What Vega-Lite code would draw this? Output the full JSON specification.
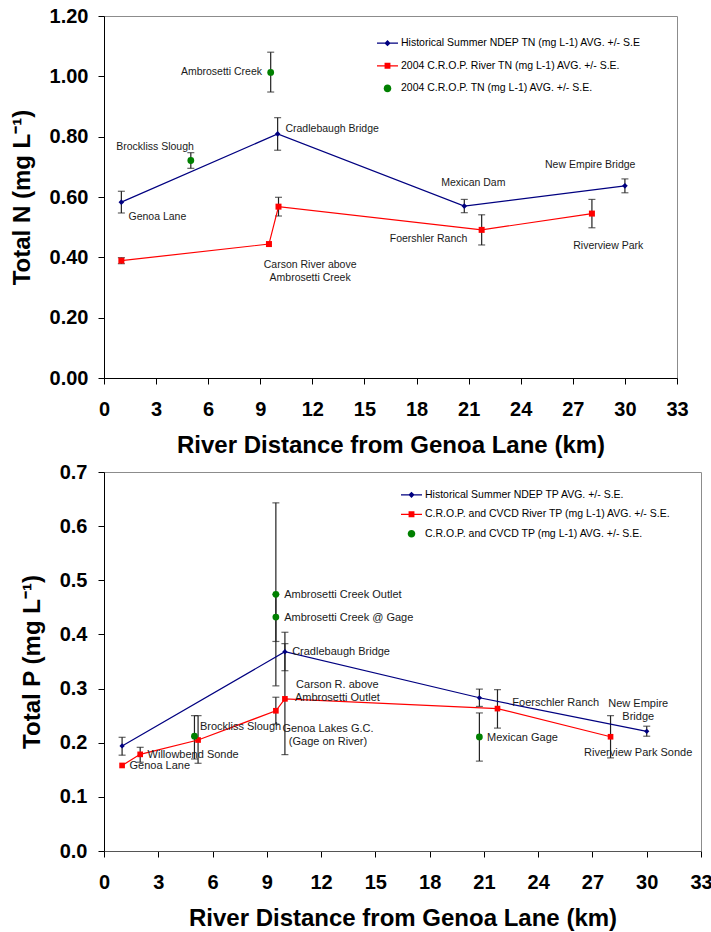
{
  "$schema": "https://vega.github.io/schema/vega-lite/v6.json",
  "background": "white",
  "padding": {"left": 9, "top": 5, "right": 5, "bottom": 2},
  "spacing": 3,
  "config": {
    "font": "Liberation Sans",
    "view": {"stroke": "#8c8c8c", "strokeWidth": 1},
    "axis": {
      "grid": false, "domainColor": "#000", "domainWidth": 1, "tickColor": "#000", "tickSize": 6, "tickWidth": 1,
      "labelFont": "Liberation Sans", "labelFontWeight": "bold", "labelFontSize": 20, "labelColor": "#000",
      "titleFont": "Liberation Sans", "titleFontWeight": "bold", "titleFontSize": 24, "titleColor": "#000",
      "labelFlush": false, "labelOverlap": false
    },
    "legend": {
      "labelFont": "Liberation Sans", "orient": "none", "padding": 0,
      "symbolSize": 441, "symbolStrokeWidth": 0, "symbolOpacity": 1, "labelFontSize": 10.5,
      "labelOffset": 3, "labelLimit": 400, "labelColor": "#000"
    }
  },
  "resolve": {
    "scale": {"x": "independent", "y": "independent", "color": "independent", "shape": "independent"},
    "legend": {"color": "independent", "shape": "independent"}
  },
  "datasets": {
    "tn": [
      {"series": "Historical Summer NDEP TN (mg L-1) AVG. +/- S.E", "km": 1, "v": 0.583, "lo": 0.547, "hi": 0.619},
      {"series": "Historical Summer NDEP TN (mg L-1) AVG. +/- S.E", "km": 10, "v": 0.809, "lo": 0.755, "hi": 0.863},
      {"series": "Historical Summer NDEP TN (mg L-1) AVG. +/- S.E", "km": 20.75, "v": 0.570, "lo": 0.548, "hi": 0.592},
      {"series": "Historical Summer NDEP TN (mg L-1) AVG. +/- S.E", "km": 30, "v": 0.637, "lo": 0.614, "hi": 0.660},
      {"series": "2004 C.R.O.P. River TN (mg L-1) AVG. +/- S.E.", "km": 1, "v": 0.389, "lo": 0.379, "hi": 0.399},
      {"series": "2004 C.R.O.P. River TN (mg L-1) AVG. +/- S.E.", "km": 9.5, "v": 0.444, "lo": null, "hi": null},
      {"series": "2004 C.R.O.P. River TN (mg L-1) AVG. +/- S.E.", "km": 10.05, "v": 0.568, "lo": 0.537, "hi": 0.599},
      {"series": "2004 C.R.O.P. River TN (mg L-1) AVG. +/- S.E.", "km": 21.75, "v": 0.491, "lo": 0.441, "hi": 0.541},
      {"series": "2004 C.R.O.P. River TN (mg L-1) AVG. +/- S.E.", "km": 28.1, "v": 0.545, "lo": 0.498, "hi": 0.592},
      {"series": "2004 C.R.O.P. TN (mg L-1) AVG. +/- S.E.", "km": 5, "v": 0.721, "lo": 0.695, "hi": 0.747},
      {"series": "2004 C.R.O.P. TN (mg L-1) AVG. +/- S.E.", "km": 9.6, "v": 1.013, "lo": 0.948, "hi": 1.080}
    ],
    "tnLabelsLeft": [
      {"label": "Cradlebaugh Bridge", "km": 10.45, "v": 0.824},
      {"label": "Genoa Lane", "km": 1.41, "v": 0.535}
    ],
    "tnLabelsRight": [
      {"label": "Ambrosetti Creek", "km": 9.1, "v": 1.013}
    ],
    "tnLabelsCenter": [
      {"label": "Brockliss Slough", "km": 2.94, "v": 0.766},
      {"label": "Mexican Dam", "km": 21.27, "v": 0.645},
      {"label": "New Empire Bridge", "km": 28.0, "v": 0.705},
      {"label": "Foershler Ranch", "km": 18.69, "v": 0.46},
      {"label": "Riverview Park", "km": 29.04, "v": 0.4375},
      {"label": "Carson River above\nAmbrosetti Creek", "km": 11.87, "v": 0.3745}
    ],
    "tp": [
      {"series": "Historical Summer NDEP TP AVG. +/- S.E.", "km": 1, "v": 0.194, "lo": 0.177, "hi": 0.210},
      {"series": "Historical Summer NDEP TP AVG. +/- S.E.", "km": 10, "v": 0.368, "lo": 0.333, "hi": 0.404},
      {"series": "Historical Summer NDEP TP AVG. +/- S.E.", "km": 20.75, "v": 0.283, "lo": 0.267, "hi": 0.299},
      {"series": "Historical Summer NDEP TP AVG. +/- S.E.", "km": 30, "v": 0.221, "lo": 0.212, "hi": 0.2305},
      {"series": "C.R.O.P. and CVCD River TP (mg L-1) AVG. +/- S.E.", "km": 1, "v": 0.158, "lo": null, "hi": null},
      {"series": "C.R.O.P. and CVCD River TP (mg L-1) AVG. +/- S.E.", "km": 2, "v": 0.1785, "lo": 0.164, "hi": 0.1915},
      {"series": "C.R.O.P. and CVCD River TP (mg L-1) AVG. +/- S.E.", "km": 5.2, "v": 0.205, "lo": 0.162, "hi": 0.250},
      {"series": "C.R.O.P. and CVCD River TP (mg L-1) AVG. +/- S.E.", "km": 9.5, "v": 0.259, "lo": 0.2345, "hi": 0.284},
      {"series": "C.R.O.P. and CVCD River TP (mg L-1) AVG. +/- S.E.", "km": 10, "v": 0.281, "lo": 0.178, "hi": 0.383},
      {"series": "C.R.O.P. and CVCD River TP (mg L-1) AVG. +/- S.E.", "km": 21.75, "v": 0.263, "lo": 0.227, "hi": 0.298},
      {"series": "C.R.O.P. and CVCD River TP (mg L-1) AVG. +/- S.E.", "km": 28, "v": 0.211, "lo": 0.172, "hi": 0.250},
      {"series": "C.R.O.P. and CVCD TP (mg L-1) AVG. +/- S.E.", "km": 5, "v": 0.212, "lo": 0.170, "hi": 0.250},
      {"series": "C.R.O.P. and CVCD TP (mg L-1) AVG. +/- S.E.", "km": 9.5, "v": 0.474, "lo": 0.305, "hi": 0.643},
      {"series": "C.R.O.P. and CVCD TP (mg L-1) AVG. +/- S.E.", "km": 9.5, "v": 0.432, "lo": 0.387, "hi": 0.474},
      {"series": "C.R.O.P. and CVCD TP (mg L-1) AVG. +/- S.E.", "km": 20.75, "v": 0.2106, "lo": 0.166, "hi": 0.255}
    ],
    "tpLabelsLeft": [
      {"label": "Ambrosetti Creek Outlet", "km": 9.96, "v": 0.473},
      {"label": "Ambrosetti Creek @ Gage", "km": 9.96, "v": 0.430},
      {"label": "Cradlebaugh Bridge", "km": 10.4, "v": 0.367},
      {"label": "Brockliss Slough", "km": 5.3, "v": 0.2284},
      {"label": "Willowbend Sonde", "km": 2.41, "v": 0.1773},
      {"label": "Genoa Lane", "km": 1.41, "v": 0.1564},
      {"label": "Mexican Gage", "km": 21.17, "v": 0.208},
      {"label": "Foerschler Ranch", "km": 22.57, "v": 0.2728}
    ],
    "tpLabelsCenter": [
      {"label": "Carson R. above\nAmbrosetti Outlet", "km": 12.9, "v": 0.3066},
      {"label": "Genoa Lakes G.C.\n(Gage on River)", "km": 12.38, "v": 0.2248},
      {"label": "New Empire\nBridge", "km": 29.53, "v": 0.2715},
      {"label": "Riverview Park Sonde", "km": 29.53, "v": 0.1804}
    ]
  },
  "vconcat": [
    {
      "width": 573,
      "height": 362,
      "encoding": {
        "x": {
          "field": "km", "type": "quantitative",
          "scale": {"domain": [0, 33], "nice": false, "zero": false},
          "axis": {"values": [0, 3, 6, 9, 12, 15, 18, 21, 24, 27, 30, 33], "title": "River Distance from Genoa Lane (km)", "labelPadding": 15, "titlePadding": 14}
        },
        "y": {
          "field": "v", "type": "quantitative",
          "scale": {"domain": [0, 1.2], "nice": false, "zero": true},
          "axis": {"values": [0, 0.2, 0.4, 0.6, 0.8, 1.0, 1.2], "format": ".2f", "title": "Total N (mg L⁻¹)", "labelPadding": 10, "titlePadding": 15}
        }
      },
      "layer": [
        {
          "data": {"name": "tn"},
          "transform": [{"filter": "datum.lo != null"}],
          "mark": {"type": "errorbar", "ticks": {"size": 7, "thickness": 1.2, "color": "#222"}, "rule": {"strokeWidth": 1.2, "color": "#222"}},
          "encoding": {
            "y": {"field": "lo", "type": "quantitative", "title": "Total N (mg L⁻¹)"},
            "y2": {"field": "hi"}
          }
        },
        {
          "data": {"name": "tn"},
          "transform": [{"filter": "indexof(datum.series, 'NDEP') >= 0"}],
          "mark": {"type": "line", "strokeWidth": 1.2, "color": "#000080"}
        },
        {
          "data": {"name": "tn"},
          "transform": [{"filter": "indexof(datum.series, 'River') >= 0"}],
          "mark": {"type": "line", "strokeWidth": 1.2, "color": "#ff0000"}
        },
        {
          "data": {"name": "tn"},
          "transform": [{"filter": "indexof(datum.series, 'NDEP') >= 0"}],
          "mark": {"type": "point", "shape": "diamond", "size": 32, "filled": true, "opacity": 1, "color": "#000080"}
        },
        {
          "data": {"name": "tn"},
          "transform": [{"filter": "indexof(datum.series, 'River') >= 0"}],
          "mark": {"type": "point", "shape": "square", "size": 36, "filled": true, "opacity": 1, "color": "#ff0000"}
        },
        {
          "data": {"name": "tn"},
          "transform": [{"filter": "indexof(datum.series, 'NDEP') < 0 && indexof(datum.series, 'River') < 0"}],
          "mark": {"type": "point", "shape": "circle", "size": 46, "filled": true, "opacity": 1, "color": "#008000"}
        },
        {
          "data": {"name": "tn"},
          "mark": {"type": "point", "filled": true, "opacity": 0},
          "encoding": {
            "color": {
              "field": "series", "type": "nominal",
              "scale": {"domain": ["Historical Summer NDEP TN (mg L-1) AVG. +/- S.E", "2004 C.R.O.P. River TN (mg L-1) AVG. +/- S.E.", "2004 C.R.O.P. TN (mg L-1) AVG. +/- S.E."], "range": ["#000080", "#ff0000", "#008000"]},
              "legend": {"title": null, "legendX": 273, "legendY": 16.7, "rowPadding": 6.6}
            },
            "shape": {
              "field": "series", "type": "nominal",
              "scale": {"domain": ["Historical Summer NDEP TN (mg L-1) AVG. +/- S.E", "2004 C.R.O.P. River TN (mg L-1) AVG. +/- S.E.", "2004 C.R.O.P. TN (mg L-1) AVG. +/- S.E."], "range": ["M-1,-0.06H1V0.06H-1Z M0,-0.3L0.3,0L0,0.3L-0.3,0Z", "M-1,-0.06H1V0.06H-1Z M-0.28,-0.28H0.28V0.28H-0.28Z", "M-0.36,0A0.36,0.36 0 1,1 0.36,0A0.36,0.36 0 1,1 -0.36,0Z"]},
              "legend": {"title": null, "legendX": 273, "legendY": 16.7, "rowPadding": 6.6}
            }
          }
        },
        {
          "data": {"name": "tnLabelsLeft"},
          "mark": {"type": "text", "align": "left", "baseline": "middle", "fontSize": 10.5, "lineBreak": "\n", "lineHeight": 13, "color": "#1a1a1a"},
          "encoding": {"text": {"field": "label"}}
        },
        {
          "data": {"name": "tnLabelsRight"},
          "mark": {"type": "text", "align": "right", "baseline": "middle", "fontSize": 10.5, "lineBreak": "\n", "lineHeight": 13, "color": "#1a1a1a"},
          "encoding": {"text": {"field": "label"}}
        },
        {
          "data": {"name": "tnLabelsCenter"},
          "mark": {"type": "text", "align": "center", "baseline": "middle", "fontSize": 10.5, "lineBreak": "\n", "lineHeight": 13, "color": "#1a1a1a"},
          "encoding": {"text": {"field": "label"}}
        }
      ]
    },
    {
      "width": 597,
      "height": 379,
      "encoding": {
        "x": {
          "field": "km", "type": "quantitative",
          "scale": {"domain": [0, 33], "nice": false, "zero": false},
          "axis": {"values": [0, 3, 6, 9, 12, 15, 18, 21, 24, 27, 30, 33], "title": "River Distance from Genoa Lane (km)", "labelPadding": 15, "titlePadding": 14, "domainColor": "#555"}
        },
        "y": {
          "field": "v", "type": "quantitative",
          "scale": {"domain": [0, 0.7], "nice": false, "zero": true},
          "axis": {"values": [0, 0.1, 0.2, 0.3, 0.4, 0.5, 0.6, 0.7], "format": ".1f", "title": "Total P (mg L⁻¹)", "labelPadding": 11, "titlePadding": 15}
        }
      },
      "layer": [
        {
          "data": {"name": "tp"},
          "transform": [{"filter": "datum.lo != null"}],
          "mark": {"type": "errorbar", "ticks": {"size": 7, "thickness": 1.2, "color": "#222"}, "rule": {"strokeWidth": 1.2, "color": "#222"}},
          "encoding": {
            "y": {"field": "lo", "type": "quantitative", "title": "Total P (mg L⁻¹)"},
            "y2": {"field": "hi"}
          }
        },
        {
          "data": {"name": "tp"},
          "transform": [{"filter": "indexof(datum.series, 'NDEP') >= 0"}],
          "mark": {"type": "line", "strokeWidth": 1.2, "color": "#000080"}
        },
        {
          "data": {"name": "tp"},
          "transform": [{"filter": "indexof(datum.series, 'River') >= 0"}],
          "mark": {"type": "line", "strokeWidth": 1.2, "color": "#ff0000"}
        },
        {
          "data": {"name": "tp"},
          "transform": [{"filter": "indexof(datum.series, 'NDEP') >= 0"}],
          "mark": {"type": "point", "shape": "diamond", "size": 28, "filled": true, "opacity": 1, "color": "#000080"}
        },
        {
          "data": {"name": "tp"},
          "transform": [{"filter": "indexof(datum.series, 'River') >= 0"}],
          "mark": {"type": "point", "shape": "square", "size": 32, "filled": true, "opacity": 1, "color": "#ff0000"}
        },
        {
          "data": {"name": "tp"},
          "transform": [{"filter": "indexof(datum.series, 'NDEP') < 0 && indexof(datum.series, 'River') < 0"}],
          "mark": {"type": "point", "shape": "circle", "size": 46, "filled": true, "opacity": 1, "color": "#008000"}
        },
        {
          "data": {"name": "tp"},
          "mark": {"type": "point", "filled": true, "opacity": 0},
          "encoding": {
            "color": {
              "field": "series", "type": "nominal",
              "scale": {"domain": ["Historical Summer NDEP TP AVG. +/- S.E.", "C.R.O.P. and CVCD River TP (mg L-1) AVG. +/- S.E.", "C.R.O.P. and CVCD TP (mg L-1) AVG. +/- S.E."], "range": ["#000080", "#ff0000", "#008000"]},
              "legend": {"title": null, "legendX": 297, "legendY": 12.3, "rowPadding": 3.5}
            },
            "shape": {
              "field": "series", "type": "nominal",
              "scale": {"domain": ["Historical Summer NDEP TP AVG. +/- S.E.", "C.R.O.P. and CVCD River TP (mg L-1) AVG. +/- S.E.", "C.R.O.P. and CVCD TP (mg L-1) AVG. +/- S.E."], "range": ["M-1,-0.06H1V0.06H-1Z M0,-0.3L0.3,0L0,0.3L-0.3,0Z", "M-1,-0.06H1V0.06H-1Z M-0.28,-0.28H0.28V0.28H-0.28Z", "M-0.36,0A0.36,0.36 0 1,1 0.36,0A0.36,0.36 0 1,1 -0.36,0Z"]},
              "legend": {"title": null, "legendX": 297, "legendY": 12.3, "rowPadding": 3.5}
            }
          }
        },
        {
          "data": {"name": "tpLabelsLeft"},
          "mark": {"type": "text", "align": "left", "baseline": "middle", "fontSize": 11, "lineBreak": "\n", "lineHeight": 12.6, "color": "#1a1a1a"},
          "encoding": {"text": {"field": "label"}}
        },
        {
          "data": {"name": "tpLabelsCenter"},
          "mark": {"type": "text", "align": "center", "baseline": "middle", "fontSize": 11, "lineBreak": "\n", "lineHeight": 12.6, "color": "#1a1a1a"},
          "encoding": {"text": {"field": "label"}}
        }
      ]
    }
  ]
}
